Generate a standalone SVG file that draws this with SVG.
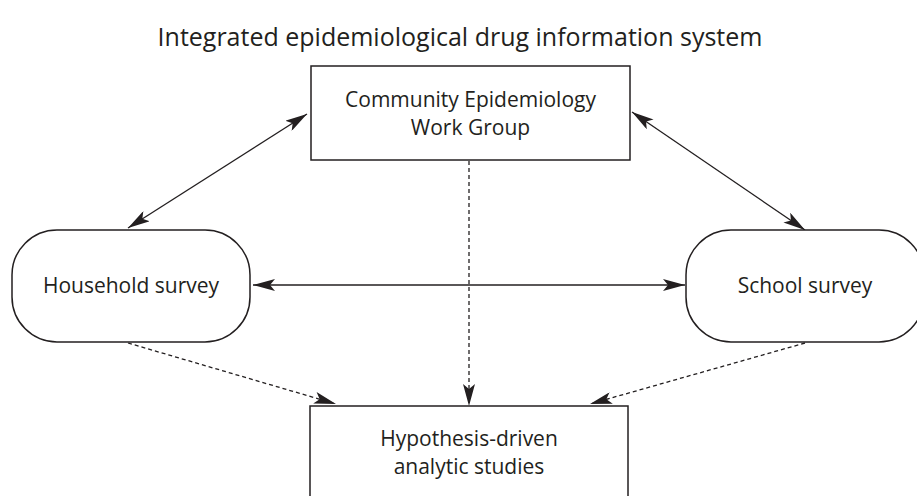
<svg xmlns="http://www.w3.org/2000/svg" width="917" height="496" viewBox="0 0 917 496">
<defs>
<marker id="ah" viewBox="0 0 22 12" refX="22" refY="6" markerWidth="22" markerHeight="12" markerUnits="userSpaceOnUse" orient="auto-start-reverse">
<path d="M0,0 L22,6 L0,12 L5,6 z" fill="#231f20"/>
</marker>
<style>
.box{fill:#fff;stroke:#231f20;stroke-width:1.5}
.t{font-family:"Open Sans","Noto Sans",sans-serif;font-size:21px;fill:#231f20;text-anchor:middle}
.solid{stroke:#231f20;stroke-width:1.3;fill:none}
.dash{stroke:#231f20;stroke-width:1.3;fill:none;stroke-dasharray:4 3}
</style>
</defs>
<rect width="917" height="496" fill="#fff"/>
<text class="t" x="460" y="46" style="font-size:25px">Integrated epidemiological drug information system</text>
<g id="connectors">
<line class="solid" x1="128" y1="228" x2="307" y2="114" marker-start="url(#ah)" marker-end="url(#ah)"/>
<line class="solid" x1="632" y1="112" x2="805" y2="230" marker-start="url(#ah)" marker-end="url(#ah)"/>
<line class="solid" x1="253" y1="285" x2="685" y2="285" marker-start="url(#ah)" marker-end="url(#ah)"/>
<line class="dash" x1="469" y1="161" x2="469" y2="406" marker-end="url(#ah)"/>
<line class="dash" x1="128" y1="343" x2="336" y2="404" marker-end="url(#ah)"/>
<line class="dash" x1="805" y1="343" x2="590" y2="404" marker-end="url(#ah)"/>
</g>
<g id="cewg">
<rect class="box" x="311" y="66" width="319" height="94"/>
<text class="t" x="470.5" y="107">Community Epidemiology</text>
<text class="t" x="470.5" y="135">Work Group</text>
</g>
<g id="household">
<rect class="box" x="12" y="230" width="238" height="112" rx="45" ry="45"/>
<text class="t" x="131" y="293">Household survey</text>
</g>
<g id="school">
<rect class="box" x="686" y="230" width="238" height="112" rx="45" ry="45"/>
<text class="t" x="805" y="293">School survey</text>
</g>
<g id="hypothesis">
<rect class="box" x="310" y="406" width="318" height="100"/>
<text class="t" x="469" y="446">Hypothesis-driven</text>
<text class="t" x="469" y="474">analytic studies</text>
</g>
</svg>
